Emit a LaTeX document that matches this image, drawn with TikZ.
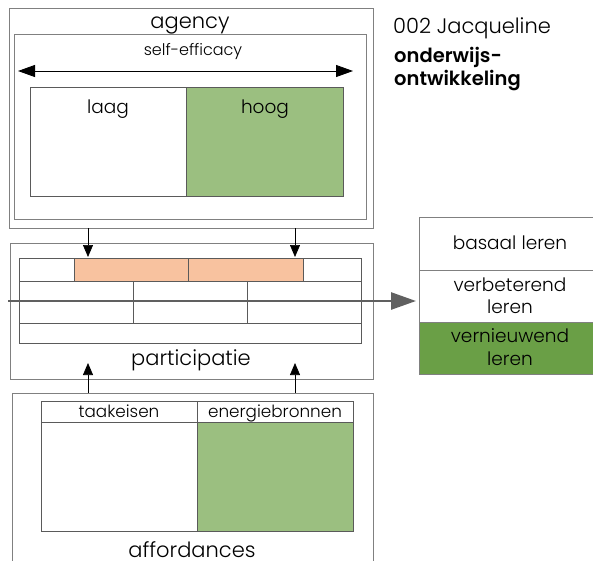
\documentclass[tikz,border=0pt]{standalone}
\usepackage{fontspec}
\setmainfont{Poppins}[UprightFont={* Light},BoldFont={* SemiBold}]
\usetikzlibrary{arrows.meta}
\definecolor{framegrey}{HTML}{808080}
\definecolor{gridgrey}{HTML}{5A5A5A}
\definecolor{lightgreen}{HTML}{9BBF80}
\definecolor{darkgreen}{HTML}{6A9F46}
\definecolor{peach}{HTML}{F8C29F}
\definecolor{flowgrey}{HTML}{606060}
\begin{document}
\begin{tikzpicture}[x=1pt,y=-1pt,
  frame/.style={draw=framegrey,line width=0.8pt,anchor=north west,inner sep=0pt,outer sep=0pt},
  cell/.style={draw=gridgrey,line width=0.7pt,anchor=north west,inner sep=0pt,outer sep=0pt},
  txt/.style={inner sep=0pt,anchor=base},
  biglbl/.style={txt,font=\fontsize{21}{24}\selectfont},
  midlbl/.style={txt,font=\fontsize{18.5}{22}\selectfont},
  smalllbl/.style={txt,font=\fontsize{16}{18}\selectfont},
  headlbl/.style={txt,font=\fontsize{16.8}{18}\selectfont},
  titlelbl/.style={inner sep=0pt,anchor=base west,font=\fontsize{21}{24}\selectfont},
  boldlbl/.style={inner sep=0pt,anchor=base west,font=\fontsize{19.5}{24}\selectfont\bfseries},
  feed/.style={-{Triangle[length=12pt,width=10pt]},line width=0.7pt,draw=black},
  flow/.style={-{Triangle[length=25pt,width=17pt]},line width=2.6pt,draw=flowgrey,color=flowgrey}]
\useasboundingbox (0,0) rectangle (593,560);
\clip (0,0) rectangle (593,560);

% agency block
\node[frame,minimum width=364pt,minimum height=220pt] (agency) at (9,8) {};
\node[frame,minimum width=352pt,minimum height=185pt] (selfeff) at (14,34) {};
\node[biglbl] (agencylbl) at (190,28) {agency};
\node[smalllbl] (selfefflbl) at (193,55) {self-efficacy};
\coordinate (scaleL) at (18,71);
\coordinate (scaleR) at (353,71);
\draw[{Triangle[length=17pt,width=12pt]}-{Triangle[length=17pt,width=12pt]},line width=0.9pt] (scaleL) -- (scaleR);
\node[cell,minimum width=156pt,minimum height=109pt] (laag) at (30,87) {};
\node[cell,fill=lightgreen,minimum width=157pt,minimum height=109pt] (hoog) at (186,87) {};
\node[midlbl] (laaglbl) at (108,113) {laag};
\node[midlbl] (hooglbl) at (265,113) {hoog};

% participation block
\node[frame,minimum width=363pt,minimum height=136pt] (particip) at (10,243) {};
\node[cell,minimum width=55pt,minimum height=23pt] (r1a) at (19,258) {};
\node[cell,fill=peach,minimum width=114pt,minimum height=23pt] (r1b) at (74,258) {};
\node[cell,fill=peach,minimum width=115pt,minimum height=23pt] (r1c) at (188,258) {};
\node[cell,minimum width=58pt,minimum height=23pt] (r1d) at (303,258) {};
\node[cell,minimum width=114pt,minimum height=42pt] (r2a) at (19,281) {};
\node[cell,minimum width=114pt,minimum height=42pt] (r2b) at (133,281) {};
\node[cell,minimum width=114pt,minimum height=42pt] (r2c) at (247,281) {};
\node[cell,minimum width=342pt,minimum height=20pt] (r3) at (19,323) {};
\node[biglbl] (participlbl) at (191,365) {participatie};

% arrows from agency down into participation
\coordinate (dnA1) at (88,228);
\coordinate (dnA2) at (88,257);
\coordinate (dnB1) at (295,228);
\coordinate (dnB2) at (295,257);
\draw[feed] (dnA1) -- (dnA2);
\draw[feed] (dnB1) -- (dnB2);

% arrows from affordances up into participation
\coordinate (upA1) at (88,393);
\coordinate (upA2) at (88,363);
\coordinate (upB1) at (295,393);
\coordinate (upB2) at (295,363);
\draw[feed] (upA1) -- (upA2);
\draw[feed] (upB1) -- (upB2);

% affordances block
\node[frame,minimum width=361pt,minimum height=200pt] (afford) at (12,393) {};
\node[cell,minimum width=156pt,minimum height=21pt] (tkhead) at (41,401) {};
\node[cell,minimum width=156pt,minimum height=21pt] (enhead) at (197,401) {};
\node[cell,minimum width=156pt,minimum height=109pt] (tkbody) at (41,422) {};
\node[cell,fill=lightgreen,minimum width=156pt,minimum height=109pt] (enbody) at (197,422) {};
\node[headlbl] (tklbl) at (119,417) {taakeisen};
\node[headlbl] (enlbl) at (275,417) {energiebronnen};
\node[biglbl] (affordlbl) at (192,557) {affordances};

% learning outcomes
\node[frame,minimum width=190pt,minimum height=53pt] (basaal) at (419,217) {};
\node[frame,minimum width=190pt,minimum height=52pt] (verbet) at (419,270) {};
\node[frame,fill=darkgreen,minimum width=190pt,minimum height=52pt] (vernieuw) at (419,322) {};
\node[midlbl] (basaallbl) at (510,249) {basaal leren};
\node[midlbl] (verbetlblA) at (510,291) {verbeterend};
\node[midlbl] (verbetlblB) at (510,313) {leren};
\node[midlbl] (vernieuwlblA) at (510,342) {vernieuwend};
\node[midlbl] (vernieuwlblB) at (510,365) {leren};

% main flow through participation
\coordinate (flowstart) at (8,301);
\coordinate (flowend) at (416,301);
\draw[flow] (flowstart) -- (flowend);

% title
\node[titlelbl] (code) at (393,33) {002 Jacqueline};
\node[boldlbl] (topic1) at (394,62) {onderwijs-};
\node[boldlbl] (topic2) at (394,85) {ontwikkeling};
\end{tikzpicture}
\end{document}
